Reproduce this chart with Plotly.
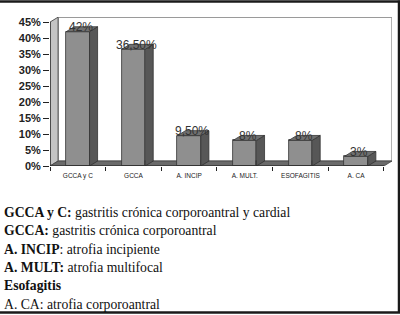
import plotly.graph_objects as go

categories = ["GCCA y C", "GCCA", "A. INCIP", "A. MULT.", "ESOFAGITIS", "A. CA"]
values = [42, 36.5, 9.5, 8, 8, 3]
value_labels = ["42%", "36,50%", "9,50%", "8%", "8%", "3%"]
y_ticks = [0, 5, 10, 15, 20, 25, 30, 35, 40, 45]
y_ticktext = ["0%", "5%", "10%", "15%", "20%", "25%", "30%", "35%", "40%", "45%"]
legend_lines = [
    ("GCCA y C:", " gastritis crónica corporoantral y cardial", True),
    ("GCCA:", " gastritis crónica corporoantral", True),
    ("A. INCIP", ": atrofia incipiente", True),
    ("A. MULT:", " atrofia multifocal", True),
    ("Esofagitis", "", True),
    ("A. CA:", " atrofia corporoantral", False),
]

n = len(categories)
xs = list(range(n))
w = 0.21      # half-width of bar front
dx = 0.145    # depth offset in x units
dy = 1.55     # depth offset in y units
ymax = 45

fig = go.Figure()

# front faces
fig.add_trace(go.Bar(x=xs, y=values, width=2 * w,
                     marker=dict(color="#8f8f8f", line=dict(color="#333333", width=0.8)),
                     hoverinfo="skip", showlegend=False))

# side and top faces
sx, sy = [], []
tx, ty = [], []
for c, v in zip(xs, values):
    sx += [c + w, c + w + dx, c + w + dx, c + w, c + w, None]
    sy += [0, dy, v + dy, v, 0, None]
    tx += [c - w, c - w + dx, c + w + dx, c + w, c - w, None]
    ty += [v, v + dy, v + dy, v, v, None]
fig.add_trace(go.Scatter(x=sx, y=sy, fill="toself", fillcolor="#575757", mode="lines",
                         line=dict(color="#333333", width=0.8), hoverinfo="skip", showlegend=False))
fig.add_trace(go.Scatter(x=tx, y=ty, fill="toself", fillcolor="#707070", mode="lines",
                         line=dict(color="#333333", width=0.8), hoverinfo="skip", showlegend=False))

x0, x1 = -0.5, n - 0.5
shapes = [
    # back wall
    dict(type="path", layer="below",
         path=f"M{x0+dx},{dy} L{x1+dx},{dy} L{x1+dx},{ymax+dy} L{x0+dx},{ymax+dy} Z",
         fillcolor="white", line=dict(color="#9a9a9a", width=1.5)),
    # left wall
    dict(type="path", layer="below",
         path=f"M{x0},0 L{x0+dx},{dy} L{x0+dx},{ymax+dy} L{x0},{ymax} Z",
         fillcolor="#c4c4c4", line=dict(color="#555555", width=1)),
    # floor
    dict(type="path", layer="below",
         path=f"M{x0},0 L{x1},0 L{x1+dx},{dy} L{x0+dx},{dy} Z",
         fillcolor="#6a6a6a", line=dict(color="#444444", width=0.8)),
    # front axis lines
    dict(type="line", x0=x0 - 0.05, x1=x1, y0=0, y1=0, line=dict(color="#222222", width=1.2)),
    dict(type="line", x0=x0, x1=x0, y0=0, y1=ymax, line=dict(color="#222222", width=1.2)),
    # outer frame (top, right, bottom)
    dict(type="line", xref="paper", yref="paper", x0=-0.2, x1=1.03, y0=1.104, y1=1.104,
         line=dict(color="#1a1a1a", width=2.5)),
    dict(type="line", xref="paper", yref="paper", x0=1.0205, x1=1.0205, y0=1.11, y1=-0.985,
         line=dict(color="#1a1a1a", width=2.5)),
    dict(type="line", xref="paper", yref="paper", x0=-0.2, x1=1.03, y0=-0.9835, y1=-0.9835,
         line=dict(color="#1a1a1a", width=2.5)),
]

annotations = []
for c, v, t in zip(xs, values, value_labels):
    annotations.append(dict(x=c + dx * 0.4, y=v + dy * 0.9, text=t, showarrow=False,
                            xanchor="center", yanchor="middle",
                            font=dict(family="Arial", size=12, color="#333333")))

line_px = [212.5, 230.8, 249.1, 267.4, 285.7, 304]
for (b, rest, bold), py in zip(legend_lines, line_px):
    head = f"<b>{b}</b>" if bold else b
    annotations.append(dict(xref="paper", yref="paper", x=(2 - 50) / 342, y=(166 - py) / 149,
                            xanchor="left", yanchor="middle", showarrow=False, align="left",
                            text=head + rest,
                            font=dict(family="Liberation Serif", size=13.7, color="#111111")))

fig.update_layout(
    width=400, height=315,
    margin=dict(l=50, r=8, t=17, b=149),
    paper_bgcolor="white", plot_bgcolor="white",
    bargap=0,
    shapes=shapes, annotations=annotations,
    xaxis=dict(range=[x0, x1 + dx], tickmode="array", tickvals=xs, ticktext=categories,
               ticks="", showgrid=False, zeroline=False, showline=False, ticklabelstandoff=4,
               tickfont=dict(family="Arial", size=6.5, color="#222222"),
               minor=dict(tickmode="array", tickvals=[i + 0.5 for i in range(-1, n)],
                          ticks="outside", ticklen=4, tickcolor="#222222", showgrid=False)),
    yaxis=dict(range=[0, ymax + dy + 0.05], tickmode="array", tickvals=y_ticks, ticktext=y_ticktext,
               ticks="outside", ticklen=6, tickcolor="#222222", showgrid=False, zeroline=False,
               showline=False, tickfont=dict(family="Arial", size=11, color="#222222", weight="bold")),
)

fig.write_html("out.html", config={"displayModeBar": False},
               post_script="document.body.style.margin='0';document.body.style.overflow='hidden';")
